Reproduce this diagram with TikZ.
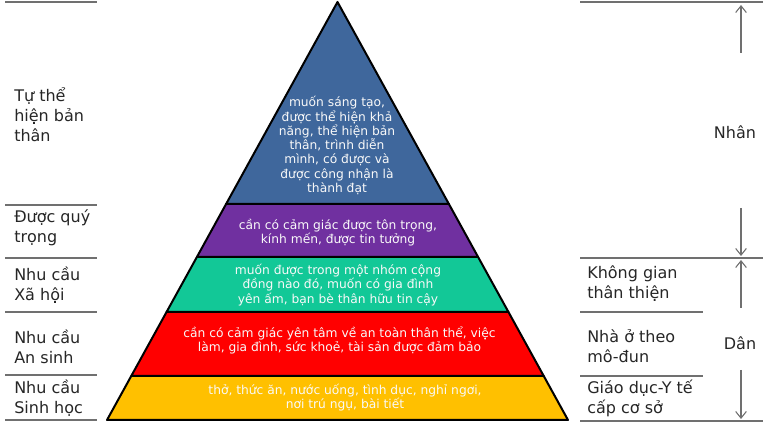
\documentclass[tikz,border=0pt]{standalone}
\usepackage{fontspec}
\setmainfont{DejaVu Sans}
\usetikzlibrary{arrows.meta}
\definecolor{cblue}{HTML}{3F679C}
\definecolor{cpurple}{HTML}{7030A0}
\definecolor{cgreen}{HTML}{12C897}
\definecolor{cred}{HTML}{FF0000}
\definecolor{cyellow}{HTML}{FFC000}
\definecolor{cline}{HTML}{707070}
\begin{document}
\begin{tikzpicture}[x=0.75pt,y=-0.75pt,
  rule/.style={draw=cline, line width=0.8pt},
  band/.style={draw=black, line width=1.5pt, line join=round},
  side/.style={anchor=west, align=left, font=\fontsize{12}{15}\selectfont, text=black!85, inner sep=0pt},
  inside/.style={align=center, text=white!95!gray, font=\fontsize{9.2}{10.7}\selectfont, inner sep=0pt},
  span/.style={draw=cline, line width=0.8pt, -{Straight Barb[length=5pt,width=8pt]}}]
\useasboundingbox (0,0) rectangle (768,427);
% pyramid bands
\path[band, fill=cyellow] (131.26,376) -- (543.74,376) -- (568,420) -- (107,420) -- cycle;
\path[band, fill=cred] (166.55,312) -- (508.45,312) -- (543.74,376) -- (131.26,376) -- cycle;
\path[band, fill=cgreen] (196.9,257) -- (478.1,257) -- (508.45,312) -- (166.55,312) -- cycle;
\path[band, fill=cpurple] (226.1,204) -- (448.9,204) -- (478.1,257) -- (196.9,257) -- cycle;
\path[band, fill=cblue] (337.5,2) -- (448.9,204) -- (226.1,204) -- cycle;
% texts inside
\node[inside] (t1) at (337,145.5) {muốn sáng tạo,\\được thể hiện khả\\năng, thể hiện bản\\thân, trình diễn\\mình, có được và\\được công nhận là\\thành đạt};
\node[inside] (t2) at (338,232.5) {cần có cảm giác được tôn trọng,\\kính mến, được tin tưởng};
\node[inside] (t3) at (338,285) {muốn được trong một nhóm cộng\\đồng nào đó, muốn có gia đình\\yên ấm, bạn bè thân hữu tin cậy};
\node[inside] (t4) at (339.5,340.5) {cần có cảm giác yên tâm về an toàn thân thể, việc\\làm, gia đình, sức khoẻ, tài sản được đảm bảo};
\node[inside] (t5) at (345,397.5) {thở, thức ăn, nước uống, tình dục, nghỉ ngơi,\\nơi trú ngụ, bài tiết};
% left rules
\foreach \yy in {2,205,258,312,375,420} \draw[rule] (5,\yy) -- (97,\yy);
% left labels
\node[side] (l1) at (14,115) {Tự thể\\hiện bản\\thân};
\node[side] (l2) at (14,228) {Được quý\\trọng};
\node[side] (l3) at (14,285) {Nhu cầu\\Xã hội};
\node[side] (l4) at (14,347) {Nhu cầu\\An sinh};
\node[side] (l5) at (14,398) {Nhu cầu\\Sinh học};
% right rules
\draw[rule] (580,2) -- (763,2);
\draw[rule] (580,258) -- (763,258);
\draw[rule] (580,312) -- (703,312);
\draw[rule] (580,376) -- (703,376);
\draw[rule] (580,421) -- (763,421);
% right labels
\node[side] (r1) at (587,284) {Không gian\\thân thiện};
\node[side] (r2) at (587,346) {Nhà ở theo\\mô-đun};
\node[side] (r3) at (587,398) {Giáo dục-Y tế\\cấp cơ sở};
\node[font=\fontsize{12}{15}\selectfont, text=black!85, inner sep=0pt] (nhan) at (735,132) {Nhân};
\node[font=\fontsize{12}{15}\selectfont, text=black!85, inner sep=0pt] (dan) at (740,343) {Dân};
% arrows
\coordinate (a1s) at (741,53);  \coordinate (a1e) at (741,5);
\coordinate (a2s) at (741,208); \coordinate (a2e) at (741,256);
\coordinate (a3s) at (741,308); \coordinate (a3e) at (741,260);
\coordinate (a4s) at (741,370); \coordinate (a4e) at (741,419);
\draw[span] (a1s) -- (a1e);
\draw[span] (a2s) -- (a2e);
\draw[span] (a3s) -- (a3e);
\draw[span] (a4s) -- (a4e);
\end{tikzpicture}
\end{document}
